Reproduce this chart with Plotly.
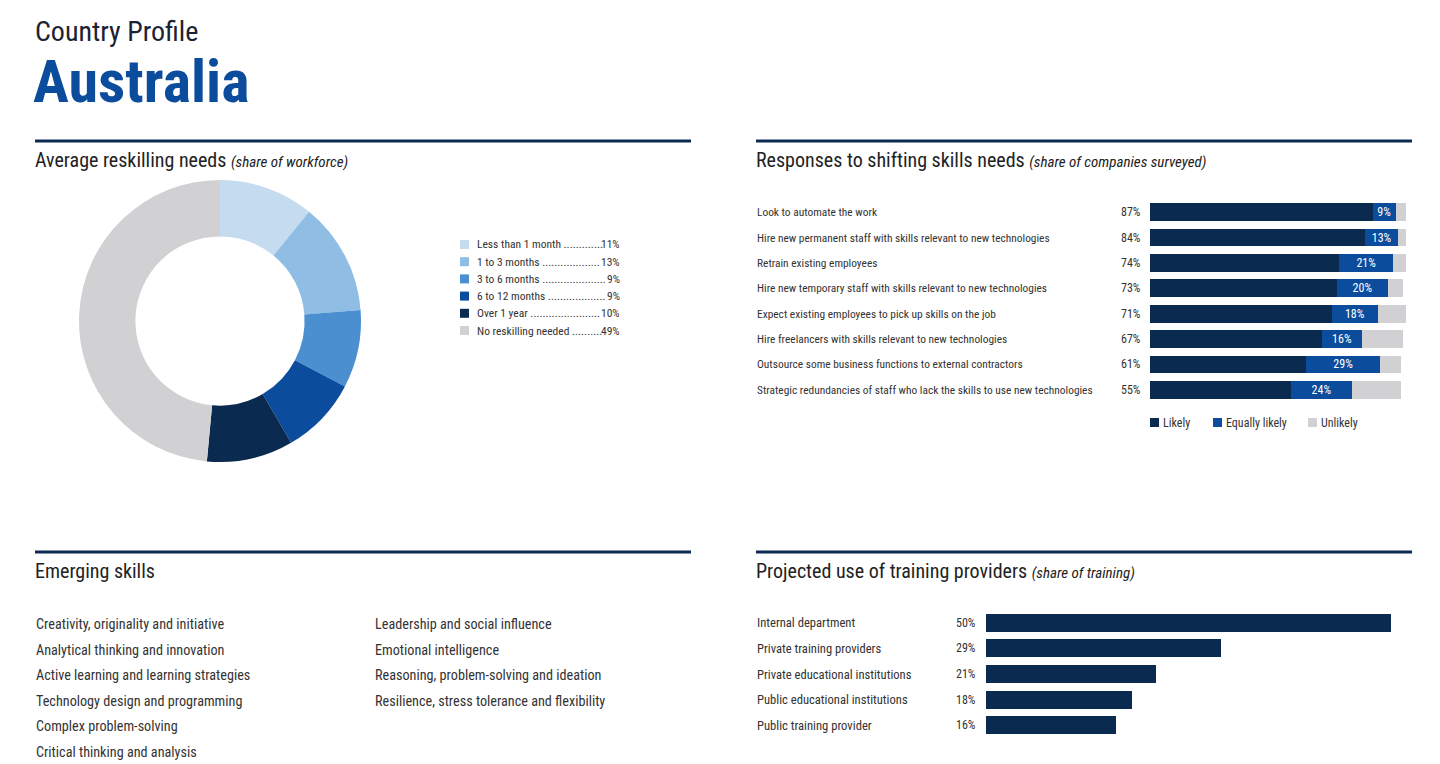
import plotly.graph_objects as go

W, H = 1440, 764


def px(x):
    return x / W


def py(y):
    return 1 - y / H


FONT = "Roboto Condensed, Liberation Sans Narrow, Arial Narrow, Roboto, sans-serif"
NAVY = "#0a2a50"
BLUE = "#0b4c9c"
GREY = "#d1d1d4"
TEXT = "#333333"

# ---------------- data ----------------
reskill_cats = ["Less than 1 month", "1 to 3 months", "3 to 6 months",
                "6 to 12 months", "Over 1 year", "No reskilling needed"]
reskill_vals = [11, 13, 9, 9, 10, 49]
reskill_colors = ["#c5dbf0", "#8fbde4", "#4b8fd0", "#0b4c9c", "#0a2a50", "#d1d1d4"]

resp_cats = [
    "Look to automate the work",
    "Hire new permanent staff with skills relevant to new technologies",
    "Retrain existing employees",
    "Hire new temporary staff with skills relevant to new technologies",
    "Expect existing employees to pick up skills on the job",
    "Hire freelancers with skills relevant to new technologies",
    "Outsource some business functions to external contractors",
    "Strategic redundancies of staff who lack the skills to use new technologies",
]
resp_likely = [87, 84, 74, 73, 71, 67, 61, 55]
resp_equal = [9, 13, 21, 20, 18, 16, 29, 24]
resp_unlikely = [4, 3, 5, 6, 11, 16, 8, 19]
resp_series = ["Likely", "Equally likely", "Unlikely"]

train_cats = ["Internal department", "Private training providers",
              "Private educational institutions", "Public educational institutions",
              "Public training provider"]
train_vals = [50, 29, 21, 18, 16]

skills_col1 = ["Creativity, originality and initiative",
               "Analytical thinking and innovation",
               "Active learning and learning strategies",
               "Technology design and programming",
               "Complex problem-solving",
               "Critical thinking and analysis"]
skills_col2 = ["Leadership and social influence",
               "Emotional intelligence",
               "Reasoning, problem-solving and ideation",
               "Resilience, stress tolerance and flexibility"]

# ---------------- figure ----------------
fig = go.Figure()

fig.add_trace(go.Pie(
    labels=reskill_cats, values=reskill_vals, hole=0.6, sort=False,
    direction="clockwise", rotation=0,
    marker=dict(colors=reskill_colors, line=dict(width=0)),
    textinfo="none", showlegend=False,
    domain=dict(x=[px(79), px(361)], y=[py(462), py(180)]),
))

series_colors = [NAVY, BLUE, GREY]
for name, vals, col in zip(resp_series, [resp_likely, resp_equal, resp_unlikely], series_colors):
    kw = {}
    if name == "Equally likely":
        kw = dict(text=[f"{v}%" for v in vals], textposition="inside",
                  insidetextanchor="middle", textangle=0, constraintext="none",
                  insidetextfont=dict(color="white", size=12, family=FONT))
    fig.add_trace(go.Bar(orientation="h", x=vals, y=resp_cats, name=name,
                         marker=dict(color=col, line=dict(width=0)), width=0.7,
                         showlegend=False, xaxis="x", yaxis="y", **kw))

fig.add_trace(go.Bar(orientation="h", x=train_vals, y=train_cats, showlegend=False,
                     marker=dict(color=NAVY, line=dict(width=0)), width=0.7,
                     xaxis="x2", yaxis="y2"))

annotations = []


def ann(x, y, text, size, color=TEXT, xanchor="left", xref="paper", yref="paper", **kw):
    annotations.append(dict(x=x, y=y, xref=xref, yref=yref, text=text, showarrow=False,
                            xanchor=xanchor, yanchor="middle",
                            font=dict(family=FONT, size=size, color=color), **kw))


# header
ann(px(33), py(31), "Country Profile", 28, color="#1c2233")
ann(px(31), py(81), "<b>Australia</b>", 60, color=BLUE)

# section titles
ann(px(33), py(160), "Average reskilling needs <i><span style='font-size:15px'>(share of workforce)</span></i>", 20, color="#222222")
ann(px(754), py(160), "Responses to shifting skills needs <i><span style='font-size:15px'>(share of companies surveyed)</span></i>", 20, color="#222222")
ann(px(33), py(571), "Emerging skills", 20, color="#222222")
ann(px(754), py(571), "Projected use of training providers <i><span style='font-size:15px'>(share of training)</span></i>", 20, color="#222222")

shapes = []
for x0, x1, y in [(35, 691, 141), (756, 1412, 141), (35, 691, 552), (756, 1412, 552)]:
    shapes.append(dict(type="line", xref="paper", yref="paper", x0=px(x0), x1=px(x1),
                       y0=py(y), y1=py(y), line=dict(color="#0d2b52", width=3)))

# pie legend (dotted leaders)
leg_y0, leg_dy = 244.5, 17.2
dot_counts = [13, 19, 21, 19, 23, 10]
for i, (c, v, col) in enumerate(zip(reskill_cats, reskill_vals, reskill_colors)):
    y = leg_y0 + i * leg_dy
    shapes.append(dict(type="rect", xref="paper", yref="paper", x0=px(460), x1=px(469),
                       y0=py(y + 4.5), y1=py(y - 4.5), fillcolor=col, line=dict(width=0)))
    ann(px(475), py(y), c + " " + "." * dot_counts[i], 11.5)
    ann(px(622), py(y), f"{v}%", 11.5, xanchor="right")

# bar legend
for name, col, sx in zip(resp_series, series_colors, [1150, 1213, 1308]):
    shapes.append(dict(type="rect", xref="paper", yref="paper", x0=px(sx), x1=px(sx + 9),
                       y0=py(427), y1=py(418), fillcolor=col, line=dict(width=0)))
    ann(px(sx + 11), py(422.5), name, 12)

# response labels
for c, v in zip(resp_cats, resp_likely):
    ann(px(755), c, c, 11.4, yref="y")
    ann(px(1143), c, f"{v}%", 12, xanchor="right", yref="y")

# training labels
for c, v in zip(train_cats, train_vals):
    ann(px(755), c, c, 12.6, yref="y2")
    ann(px(978), c, f"{v}%", 12, xanchor="right", yref="y2")

# emerging skills
for i, s in enumerate(skills_col1):
    ann(px(34), py(624 + i * 25.6), s, 14.2)
for i, s in enumerate(skills_col2):
    ann(px(373), py(624 + i * 25.6), s, 14.2)

fig.update_layout(
    width=W, height=H, margin=dict(l=0, r=0, t=0, b=0),
    paper_bgcolor="white", plot_bgcolor="white",
    barmode="stack", bargap=0.3, showlegend=False,
    font=dict(family=FONT, color=TEXT),
    xaxis=dict(domain=[px(1150), px(1406)], range=[0, 100], visible=False, fixedrange=True),
    yaxis=dict(domain=[py(402.5), py(199.5)], categoryorder="array", categoryarray=resp_cats,
               range=[7.5, -0.5], visible=False, fixedrange=True),
    xaxis2=dict(domain=[px(986), px(1391)], range=[0, 50], visible=False, anchor="y2"),
    yaxis2=dict(domain=[py(738), py(610)], categoryorder="array", categoryarray=train_cats,
                range=[4.5, -0.5], visible=False, anchor="x2"),
    annotations=annotations, shapes=shapes,
)

fig.write_html("out.html", config={"displayModeBar": False},
               post_script="document.body.style.margin='0px';")
